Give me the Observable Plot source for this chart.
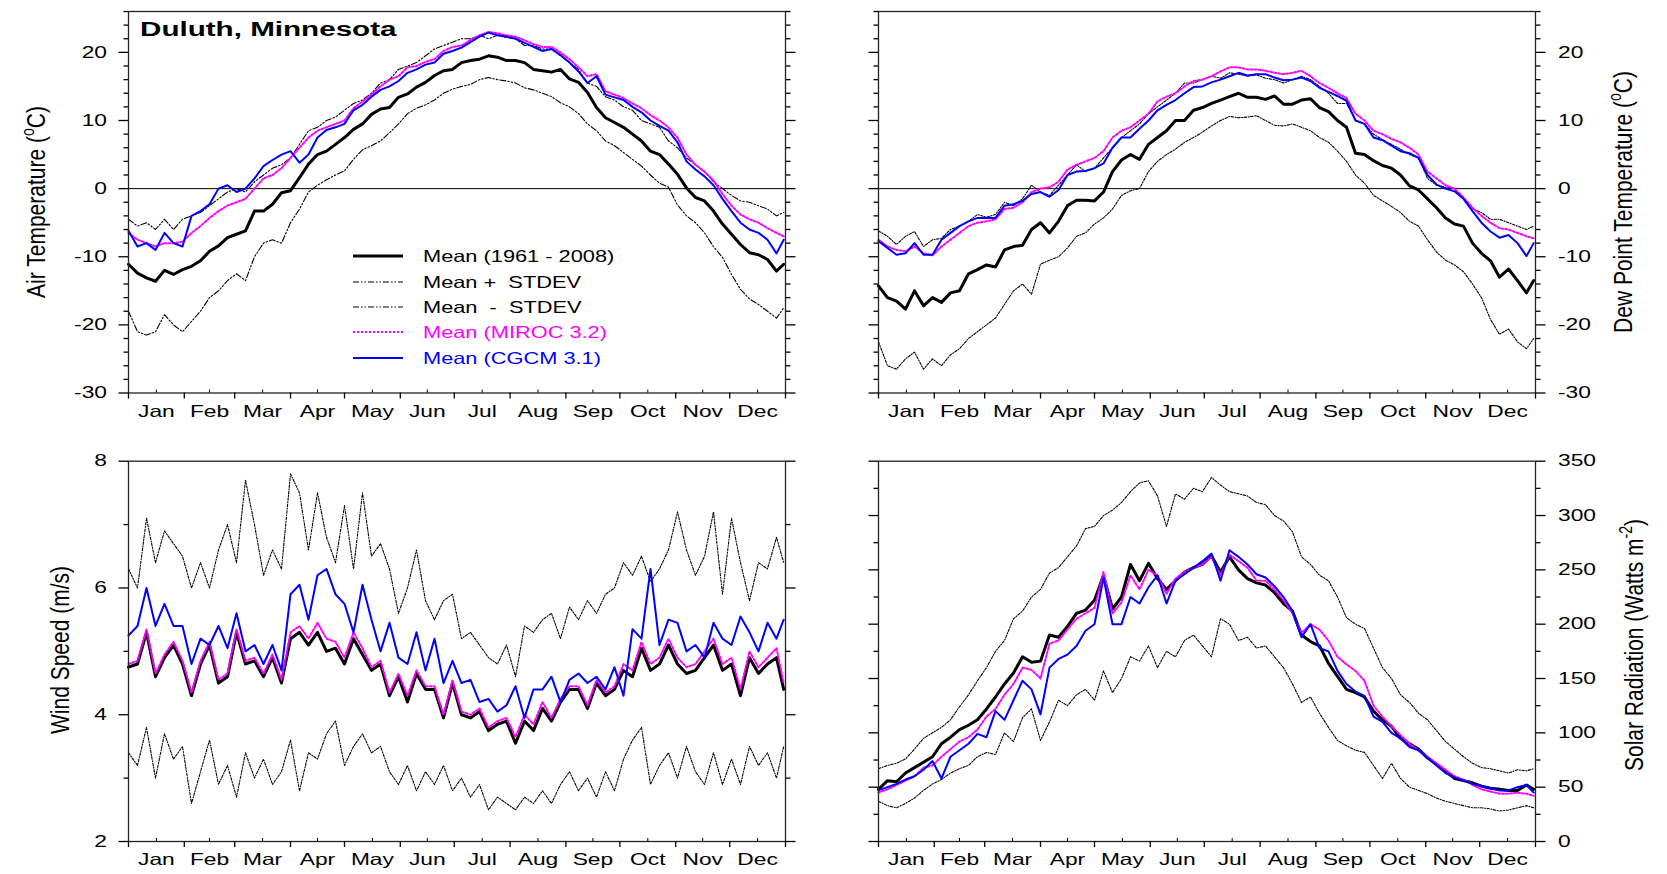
<!DOCTYPE html>
<html><head><meta charset="utf-8">
<script src="https://cdn.jsdelivr.net/npm/d3@7"></script>
<script src="https://cdn.jsdelivr.net/npm/@observablehq/plot@0.6"></script>
<style>
body{margin:0;background:#fff;}
#wrap{position:relative;width:1667px;height:874px;overflow:hidden;font-family:"Liberation Sans",Arial,sans-serif;color:#000;}
.panel{position:absolute;}
.ytitle{position:absolute;white-space:nowrap;font-size:21px;line-height:24px;transform:translate(-50%,-50%) scaleX(1.25) rotate(-90deg);}
.ytitle sup{font-size:14px;vertical-align:9px;line-height:0;}
#title{position:absolute;left:140px;top:19px;font-size:20px;line-height:20px;font-weight:bold;white-space:nowrap;transform:scaleX(1.48);transform-origin:0 0;}
.lrow{position:absolute;left:353px;height:20px;}
.lrow svg{position:absolute;left:0;top:0;}
.lrow span{position:absolute;left:70px;top:0;font-size:16.5px;line-height:20px;white-space:pre;transform:scaleX(1.32);transform-origin:0 0;}
</style></head>
<body>
<div id="wrap">
  <div id="tl" class="panel" style="left:0;top:0"></div>
  <div id="tr" class="panel" style="left:840px;top:0"></div>
  <div id="bl" class="panel" style="left:0;top:430px"></div>
  <div id="br" class="panel" style="left:840px;top:430px"></div>
  <div id="title">Duluth, Minnesota</div>
  <div class="ytitle" style="left:36px;top:202px">Air Temperature (<sup>o</sup>C)</div>
  <div class="ytitle" style="left:1623px;top:202px">Dew Point Temperature (<sup>o</sup>C)</div>
  <div class="ytitle" style="left:60px;top:650px">Wind Speed (m/s)</div>
  <div class="ytitle" style="left:1634px;top:645px">Solar Radiation (Watts m<sup>-2</sup>)</div>
  <div id="legend"></div>
</div>
<script>
// ---------- sampling grid (day of year) ----------
const DAYS = d3.range(0, 361, 5).concat([364]);
const MONTHS = ["Jan","Feb","Mar","Apr","May","Jun","Jul","Aug","Sep","Oct","Nov","Dec"];
const MONTH_STARTS = [0,31,59,90,120,151,181,212,243,273,304,334,365];
const MONTH_MIDS = [15.5,45,74.5,105,135.5,166,196.5,227.5,258,288.5,319,349.5];

// ---------- Air temperature (°C) ----------
const airMean = [-11.1,-12.4,-13.1,-13.6,-12,-12.6,-11.9,-11.4,-10.6,-9.2,
-8.4,-7.2,-6.7,-6.2,-3.3,-3.3,-2.3,-0.6,-0.3,1.6,
3.6,5.0,5.5,6.5,7.5,8.7,9.5,10.9,11.7,11.9,
13.4,13.9,14.9,15.6,16.6,17.3,17.5,18.5,18.8,19.0,
19.5,19.3,18.8,18.8,18.5,17.5,17.3,17.1,17.5,16.1,
15.6,14.1,11.9,10.4,9.7,9.0,8.0,7.0,5.5,5.0,
3.6,2.1,0.1,-1.3,-1.8,-3.3,-5.2,-6.7,-8.2,-9.4,
-9.7,-10.4,-12.1,-11.1];
const airPlus = [-4.5,-5.5,-5,-6,-4.5,-6,-4.5,-4,-3.5,-2.5,
-1.5,-0.5,0,-0.5,1,2,3,3.5,4.5,6.5,
8.5,9,10,10.5,11.5,12.5,13,14,15.5,16,
17.5,18,18.5,19.5,20.5,21,21.5,22,22,22.5,
22,22.5,22.2,22,21,21,20.5,20.5,19.5,18.5,
17.5,15.5,15,13.5,13,12,11.5,10,9.5,9,
7,6,4.5,3.5,2.5,1,0,-1,-1.8,-2,
-2.5,-3,-4,-3.5];
const airMinus = [-18,-21,-21.5,-21,-18.5,-20,-21,-19.5,-18,-16,
-15,-13.5,-12.5,-13.5,-10,-8,-7.5,-8,-5,-3,
-0.5,0.5,1.3,2,2.6,4.3,5.7,6.3,7,8.2,
9.5,11,11.8,12.3,13,14,14.6,15,15.3,16,
16.3,16,15.8,15.5,14.8,14.5,14,13.5,12.6,12,
11,9.5,8.5,7,6.3,5.3,4.3,3.3,2,0.8,
0.2,-2.4,-4,-5,-6.5,-8.5,-10.1,-12.6,-14.8,-16.2,
-17,-18,-19,-17.5];
const airMiroc = [-6.5,-7.5,-8,-8.5,-8,-8,-7.8,-6.5,-5.5,-4.3,
-3.3,-2.5,-2,-1.5,0,1.5,2,3,4.5,6,
7.5,8.5,9,9.5,10,11.8,12.8,13.8,15,16,
16.5,17.8,18,18.6,19,20.2,20.8,21,21.8,22.5,
23,22.8,22.5,22.3,21.8,21.2,20.8,20.8,20,19,
17.8,16.5,16.8,14.3,13.8,13.3,12.5,11.8,10.8,10,
9,7.5,5,3.5,2.5,1.2,-0.8,-2.5,-3.8,-4.5,
-5,-5.8,-6.5,-7];
const airCgcm = [-6.2,-8.5,-8,-9,-6.5,-8,-8.5,-4,-3.3,-2.3,
0,0.5,-0.5,0,1.5,3.3,4.2,5,5.5,3.8,
5,7.5,8.6,9,9.5,11.5,12.3,13.5,14.5,15,
15.8,17,17.5,18.2,18.5,19.8,20.2,20.7,21.5,22.3,
22.9,22.5,22.3,22,21.4,20.8,20.2,20.5,19.6,18.5,
17.2,15.5,16.5,13.8,13.4,13,12,11.2,10,9.2,
8.5,6.8,4,2.8,1.8,0.5,-1.5,-3.3,-5,-6,
-6.5,-7.5,-9.5,-7.5];

// ---------- Dew point temperature (°C) ----------
const dewMean = [-14.3,-16,-16.5,-17.7,-15,-17.2,-16,-16.7,-15.3,-15,
-12.5,-11.9,-11.2,-11.5,-9,-8.5,-8.3,-6,-5,-6.5,
-4.8,-2.5,-1.7,-1.7,-1.8,-0.5,2.5,4.2,5,4.3,
6.5,7.5,8.5,10,10,11.5,11.9,12.5,13,13.5,
14,13.4,13.4,13.1,13.6,12.4,12.4,13,13.2,11.9,
11.3,10,9,5.2,5,4.1,3.4,3,2,0.4,
-0.2,-1.5,-2.8,-4.3,-5.2,-5.5,-8,-9.5,-10.6,-13,
-11.8,-13.5,-15.3,-13.5];
const dewPlus = [-6.2,-7,-8.2,-7,-6.3,-8.5,-7.5,-7.3,-6,-5.5,
-4.8,-3.8,-4.2,-3.8,-2,-2.5,-1.5,0.5,-0.5,-1,
0.5,2,3.5,2.5,3,4.5,6,7.5,8.5,9.5,
11,12,13,14,15.5,15.5,16,16.5,16.2,17,
16.8,16.5,16.7,16.2,16,15.5,16,16.5,16,15,
14,12.5,12.5,10,9.5,8,7.2,6.5,5.8,5,
4.5,1.5,0.5,0.2,0,-1.5,-3,-3.5,-4.5,-4.5,
-5,-5.5,-6,-5.5];
const dewMinus = [-22.5,-26,-26.5,-25,-24,-26.5,-25,-26,-24.4,-23.5,
-22,-21,-20,-19,-17,-15,-14,-15.5,-11.1,-10.5,
-10,-8.7,-7,-6.5,-5.2,-4.3,-3,-1,-0.3,0,
2.5,4,5,5.8,6.8,7.5,8.3,9.2,10,10.6,
10.4,10.5,10.7,10,9.3,9.2,9.5,9,8.5,7.5,
6.8,5.5,4,2,0.8,-1,-1.8,-2.6,-3.5,-4.8,
-5.5,-7.5,-9.3,-10.5,-11.2,-12.2,-14,-16,-19.2,-21.4,
-20.6,-22.5,-23.5,-22];
const dewMiroc = [-7.5,-8.5,-9,-9.2,-8.5,-9.5,-9.8,-8.5,-7.5,-6.5,
-5.5,-5,-4.8,-4.5,-3,-2.8,-2,-0.5,0,0.2,
1,2.8,3.5,4,4.5,5.5,7.5,8.5,9,10,
11,12.8,13.5,14,15,15.8,16,16.5,17.2,17.8,
17.8,17.5,17.5,17.3,17,16.8,17,17.3,16.5,15.5,
14.8,14,13.3,11,10,8.5,8,7.3,6.8,6,
5,2.5,1.5,0.5,0,-1.3,-2.8,-4,-5,-5.8,
-6,-6.5,-7,-7.3];
const dewCgcm = [-7.7,-8.7,-9.7,-9.5,-8,-9.7,-9.7,-7.5,-6.5,-5.5,
-4.8,-4.3,-4.3,-4.3,-2.5,-2.3,-1.8,-0.8,-0.5,-1.2,
-0.2,2,2.5,2.6,3,3.7,6,7.5,7.5,8.8,
10,11.5,12.3,13,14,14.9,15,15.6,16,16.5,
17,16.6,16.8,16.8,16.3,15.9,16,16.3,15.8,14.8,
14.2,13.6,12.9,10,9.5,7.5,7.1,6.3,5.5,5.2,
4.5,2,0.6,0,-0.4,-1.5,-3.3,-5,-6.3,-7.2,
-6.8,-8,-9.9,-8];

// ---------- Wind speed (m/s) ----------
const windMean = [4.75,4.8,5.3,4.6,4.9,5.1,4.8,4.3,4.8,5.1,
4.5,4.6,5.3,4.8,4.85,4.6,4.9,4.5,5.2,5.3,
5.1,5.3,5.0,5.05,4.8,5.2,4.95,4.7,4.8,4.3,
4.6,4.2,4.65,4.4,4.4,3.95,4.5,4.0,3.95,4.05,
3.75,3.85,3.9,3.55,3.9,3.75,4.1,3.9,4.2,4.4,
4.4,4.1,4.5,4.3,4.4,4.7,4.6,5.05,4.7,4.8,
5.1,4.8,4.65,4.7,4.9,5.1,4.7,4.8,4.3,4.9,
4.65,4.8,4.9,4.4];
const windPlus = [6.3,6.0,7.1,6.4,6.9,6.7,6.5,6.0,6.4,6.0,
6.6,7.0,6.4,7.7,7.0,6.2,6.6,6.3,7.8,7.5,
6.6,7.5,6.8,6.4,7.3,6.3,7.5,6.5,6.7,6.3,
5.6,6.0,6.6,5.8,5.5,5.8,5.9,5.2,5.3,5.1,
4.9,4.8,5.1,4.6,5.4,5.3,5.5,5.6,5.2,5.7,
5.5,5.8,5.6,5.9,6.0,6.4,6.2,6.5,6.1,6.3,
6.6,7.2,6.6,6.2,6.5,7.2,5.9,7.1,6.4,5.8,
6.4,6.3,6.8,6.4];
const windMinus = [3.4,3.2,3.8,3.0,3.7,3.3,3.5,2.6,3.1,3.6,
2.9,3.2,2.7,3.4,3.0,3.3,2.9,3.1,3.6,2.8,
3.4,3.3,3.7,3.9,3.2,3.5,3.7,3.4,3.5,3.1,
2.9,3.2,2.8,3.1,2.9,3.2,2.8,3.0,2.7,2.9,
2.5,2.7,2.6,2.5,2.7,2.6,2.8,2.6,2.9,3.1,
2.8,3.0,2.7,3.1,2.8,3.3,3.6,3.8,2.9,3.2,
3.4,3.0,3.5,3.1,2.9,3.4,2.9,3.3,2.9,3.5,
3.2,3.4,3.0,3.5];
const windMiroc = [4.8,4.85,5.35,4.65,4.95,5.15,4.85,4.35,4.85,5.15,
4.55,4.65,5.35,4.85,4.9,4.65,4.95,4.55,5.3,5.4,
5.2,5.45,5.2,5.15,4.9,5.3,5.05,4.75,4.85,4.35,
4.65,4.3,4.7,4.45,4.45,4.0,4.55,4.05,4.0,4.1,
3.8,3.9,3.95,3.65,4.0,3.85,4.2,3.95,4.25,4.45,
4.45,4.15,4.55,4.35,4.45,4.8,4.7,5.15,4.8,4.9,
5.2,4.9,4.75,4.8,5.0,5.2,4.8,4.9,4.4,5.0,
4.75,4.9,5.05,4.5];
const windCgcm = [5.25,5.4,6.0,5.4,5.75,5.4,5.4,4.8,5.2,5.1,
5.4,5.05,5.6,5.0,5.1,4.8,5.1,4.7,5.9,6.05,
5.5,6.2,6.3,5.9,5.75,5.3,6.05,5.5,5.0,5.45,
4.9,4.8,5.3,4.7,5.2,4.5,4.85,4.5,4.55,4.2,
4.25,4.05,4.15,4.45,3.95,4.4,4.4,4.6,4.2,4.55,
4.65,4.5,4.6,4.4,4.75,4.3,5.35,5.2,6.3,5.1,
5.5,5.45,5.0,5.1,4.9,5.45,5.2,5.1,5.55,5.3,
5.0,5.45,5.2,5.5];

// ---------- Solar radiation (W m-2) ----------
const solarMean = [48,56,55,63,68,73,78,90,96,103,
107,112,122,133,145,155,170,165,166,190,
188,198,210,213,222,245,214,225,255,240,
256,242,232,240,248,252,255,263,248,262,
250,242,238,236,229,219,212,190,184,180,
164,152,140,137,133,120,112,106,95,90,
85,77,71,65,58,56,54,51,49,48,
47,47,52,48];
const solarPlus = [67,70,72,76,85,95,100,105,112,124,
135,148,160,175,185,205,212,225,232,247,
252,262,272,288,290,300,305,312,322,330,
332,318,290,320,315,325,322,335,328,322,
320,318,312,310,300,295,285,262,255,245,
240,225,206,200,196,178,160,150,135,128,
118,112,102,92,85,78,72,68,67,65,
63,66,65,67];
const solarMinus = [37,33,31,35,40,47,53,57,63,67,
70,78,82,80,100,92,114,122,93,110,
130,125,135,140,130,157,137,150,170,166,
180,160,175,170,185,190,180,170,205,200,
185,188,178,180,170,160,145,128,133,118,
105,93,88,84,82,70,58,72,58,50,
47,44,40,37,35,33,31,31,30,28,
29,31,33,31];
const solarMiroc = [45,48,52,56,60,68,70,78,85,92,
96,103,115,122,135,145,160,158,150,182,
185,195,205,210,215,248,210,220,245,232,
250,245,228,242,248,252,255,262,245,264,
258,252,240,240,232,222,210,192,200,195,
185,170,163,157,148,125,115,106,98,90,
84,78,72,66,60,57,52,48,46,44,
44,45,44,42];
const solarCgcm = [47,50,53,57,60,66,74,58,78,84,
90,99,96,120,112,130,148,140,117,160,
168,172,180,194,200,243,200,200,225,219,
234,245,219,240,246,252,258,265,240,268,
262,255,246,243,235,225,212,188,200,178,
175,157,145,138,134,115,110,100,95,87,
84,77,70,63,59,56,53,51,49,47,
47,50,52,45];

// ---------- tick values ----------
const airMajor = [-30,-20,-10,0,10,20];
const airMinor = [-28,-26,-24,-22,-18,-16,-14,-12,-8,-6,-4,-2,2,4,6,8,12,14,16,18,22,24,26];
const windMajor = [2,4,6,8];
const windMinor = [3,5,7];
const solarMajor = [0,50,100,150,200,250,300,350];
const solarMinor = [25,75,125,175,225,275,325];

const LEGEND = [
  {label: "Mean (1961 - 2008)", color: "#000"},
  {label: "Mean +  STDEV", color: "#000"},
  {label: "Mean  -  STDEV", color: "#000"},
  {label: "Mean (MIROC 3.2)", color: "#ff00ff"},
  {label: "Mean (CGCM 3.1)", color: "#0000ff"}
];

// ---------- styles ----------
const ST = {
  mean: {stroke: "#000", strokeWidth: 3},
  sdDashDot: {stroke: "#000", strokeWidth: 1.1, strokeDasharray: "6,2,1.5,2,1.5,2"},
  sdDot: {stroke: "#000", strokeWidth: 1.1, strokeDasharray: "2.5,1.5,1,1.5"},
  miroc: {stroke: "#ff00ff", strokeWidth: 2, strokeDasharray: "2,2"},
  cgcm: {stroke: "#0000ff", strokeWidth: 2}
};

function series(vals) { return vals.map((v, i) => ({d: DAYS[i], v})); }

function makePanel(o) {
  const line = (vals, st) => Plot.line(series(vals), {x: "d", y: "v", strokeLinejoin: "round", ...st});
  const sd = o.sdStyle;
  const marks = [];
  if (o.zero) marks.push(Plot.ruleY([0], {stroke: "#000", strokeWidth: 1}));
  marks.push(
    line(o.minus, sd), line(o.plus, sd),
    line(o.mean, ST.mean), line(o.miroc, ST.miroc), line(o.cgcm, ST.cgcm),
    Plot.frame({stroke: "#222", strokeWidth: 1.3})
  );
  for (const side of ["left", "right"]) {
    marks.push(Plot.axisY({anchor: side, ticks: o.minors, tickSize: 4.5, tickFormat: () => "", label: null, strokeWidth: 1.3}));
    marks.push(Plot.axisY({anchor: side, ticks: o.majors, tickSize: 9.5, tickPadding: side === "left" ? 12 : 13,
      tickFormat: side === o.labelSide ? (d => String(d)) : (() => ""), label: null, fontSize: 16.5, strokeWidth: 1.3}));
  }
  marks.push(Plot.axisX({anchor: "bottom", ticks: MONTH_STARTS, tickSize: 6, tickFormat: () => "", label: null, strokeWidth: 1.3}));
  marks.push(Plot.axisX({anchor: "bottom", ticks: MONTH_MIDS, tickSize: -3, tickFormat: () => "", label: null, strokeWidth: 1}));
  marks.push(Plot.axisX({anchor: "bottom", ticks: MONTH_MIDS, tickSize: 0, tickPadding: 12,
    tickFormat: d => MONTHS[MONTH_MIDS.indexOf(d)], label: null, fontSize: 16.5}));
  return Plot.plot({
    width: o.width, height: o.height,
    marginLeft: o.ml, marginRight: o.mr, marginTop: o.mt, marginBottom: o.mb,
    x: {domain: [0, 365]},
    y: {domain: o.yDomain},
    style: {fontFamily: "'Liberation Sans', Arial, sans-serif", fontSize: "16.5px", color: "#000", background: "transparent", overflow: "visible"},
    marks
  });
}

function stretchText(svg, k) {
  svg.querySelectorAll("text").forEach(t => {
    const tr = t.getAttribute("transform") || "";
    t.setAttribute("transform", tr + ` scale(${k},1)`);
  });
}

const panels = [
  {id: "tl", width: 840, height: 430, ml: 128, mr: 55, mt: 11, mb: 37.5, yDomain: [-30, 26], majors: airMajor, minors: airMinor,
   labelSide: "left", zero: true, sdStyle: ST.sdDashDot, mean: airMean, plus: airPlus, minus: airMinus, miroc: airMiroc, cgcm: airCgcm},
  {id: "tr", width: 827, height: 430, ml: 38, mr: 132, mt: 11, mb: 37.5, yDomain: [-30, 26], majors: airMajor, minors: airMinor,
   labelSide: "right", zero: true, sdStyle: ST.sdDot, mean: dewMean, plus: dewPlus, minus: dewMinus, miroc: dewMiroc, cgcm: dewCgcm},
  {id: "bl", width: 840, height: 444, ml: 128, mr: 55, mt: 30.7, mb: 33, yDomain: [2, 8], majors: windMajor, minors: windMinor,
   labelSide: "left", zero: false, sdStyle: ST.sdDot, mean: windMean, plus: windPlus, minus: windMinus, miroc: windMiroc, cgcm: windCgcm},
  {id: "br", width: 827, height: 444, ml: 38, mr: 132, mt: 30.7, mb: 33, yDomain: [0, 350], majors: solarMajor, minors: solarMinor,
   labelSide: "right", zero: false, sdStyle: ST.sdDot, mean: solarMean, plus: solarPlus, minus: solarMinus, miroc: solarMiroc, cgcm: solarCgcm}
];

for (const p of panels) {
  const svg = makePanel(p);
  document.getElementById(p.id).appendChild(svg);
  stretchText(svg, 1.38);
}

// ---------- legend ----------
const legendStyles = [ST.mean, ST.sdDashDot, ST.sdDashDot, ST.miroc, ST.cgcm];
const rowY = [256, 282, 307, 332, 358];
const leg = document.getElementById("legend");
LEGEND.forEach((item, i) => {
  const st = legendStyles[i];
  const row = document.createElement("div");
  row.className = "lrow";
  row.style.top = (rowY[i] - 10) + "px";
  row.innerHTML = `<svg width="52" height="20"><line x1="0" x2="50" y1="10" y2="10" stroke="${st.stroke}" stroke-width="${st.strokeWidth}" ${st.strokeDasharray ? `stroke-dasharray="${st.strokeDasharray}"` : ""}/></svg><span style="color:${item.color}">${item.label}</span>`;
  leg.appendChild(row);
});
</script>
</body></html>
